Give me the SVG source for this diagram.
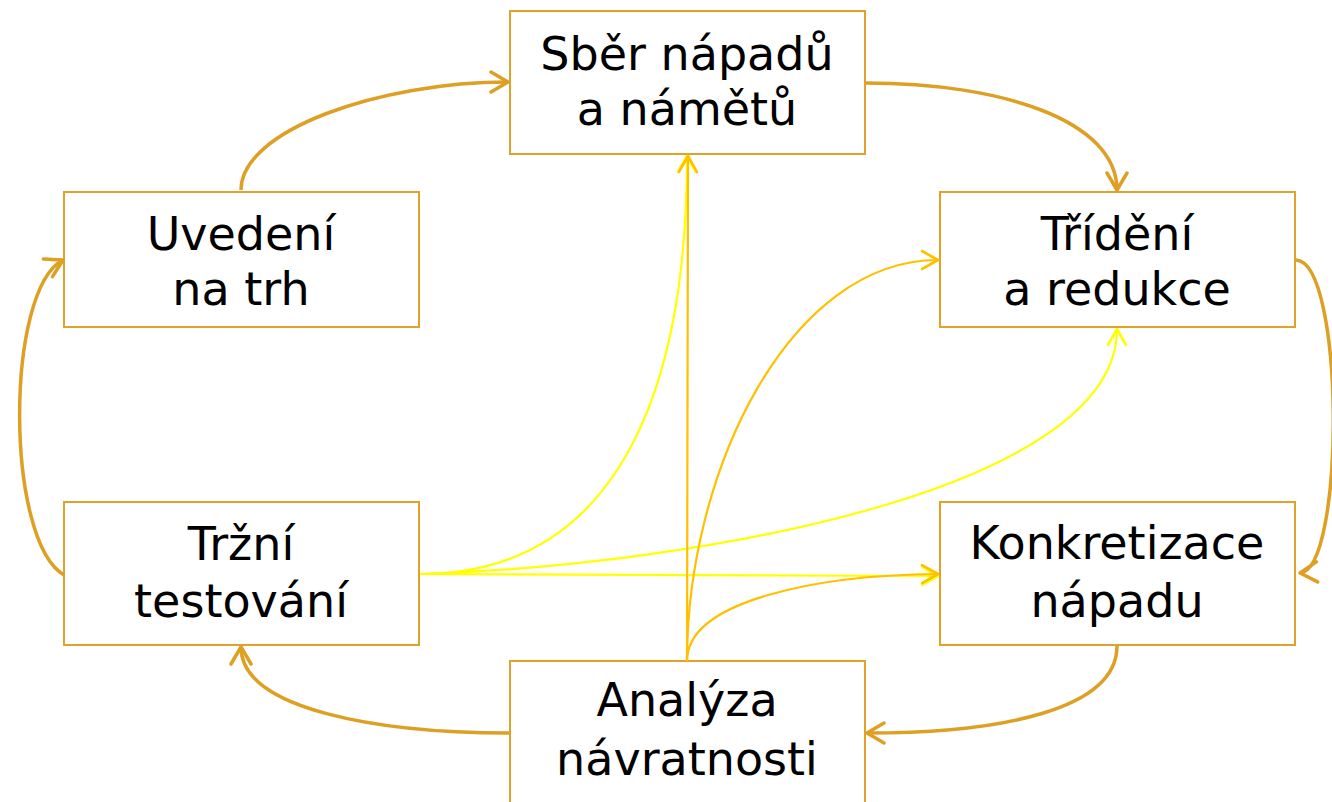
<svg xmlns="http://www.w3.org/2000/svg" width="1332" height="802" viewBox="0 0 1332 802">
<defs>
<style>
.box{fill:#fff;stroke:#E0A22A;stroke-width:2}
.lbl{font-family:"DejaVu Sans","Liberation Sans",sans-serif;font-size:46px;fill:#000;text-anchor:middle}
.thick{fill:none;stroke:#DDA024;stroke-width:3.5}
.yel{fill:none;stroke:#FFFF00;stroke-width:2.2}
.amb{fill:none;stroke:#FFC000;stroke-width:2.2}
</style>
<marker id="mT" viewBox="-20 -12 22 24" refX="0" refY="0" markerWidth="22" markerHeight="24" markerUnits="userSpaceOnUse" orient="auto">
<path d="M-17,-10 L0,0 L-17,10" fill="none" stroke="#DDA024" stroke-width="3.5" stroke-linecap="round" stroke-linejoin="round"/>
</marker>
<marker id="mY" viewBox="-20 -12 22 24" refX="0" refY="0" markerWidth="22" markerHeight="24" markerUnits="userSpaceOnUse" orient="auto">
<path d="M-16,-9 L0,0 L-16,9" fill="none" stroke="#FFFF00" stroke-width="2.6" stroke-linecap="round" stroke-linejoin="round"/>
</marker>
<marker id="mA" viewBox="-20 -12 22 24" refX="0" refY="0" markerWidth="22" markerHeight="24" markerUnits="userSpaceOnUse" orient="auto">
<path d="M-16,-9 L0,0 L-16,9" fill="none" stroke="#FFC000" stroke-width="2.6" stroke-linecap="round" stroke-linejoin="round"/>
</marker>
</defs>
<rect width="1332" height="802" fill="#fff"/>

<g id="n-sber"><rect class="box" x="510" y="11" width="355" height="143"/><text class="lbl" x="687" y="70">Sběr nápadů</text><text class="lbl" x="687" y="125">a námětů</text></g>
<g id="n-uvedeni"><rect class="box" x="64" y="192" width="355" height="135"/><text class="lbl" x="241" y="250">Uvedení</text><text class="lbl" x="241" y="305">na trh</text></g>
<g id="n-trideni"><rect class="box" x="940" y="192" width="355" height="135"/><text class="lbl" x="1117" y="250">Třídění</text><text class="lbl" x="1117" y="305">a redukce</text></g>
<g id="n-trzni"><rect class="box" x="64" y="502" width="355" height="143"/><text class="lbl" x="241" y="560">Tržní</text><text class="lbl" x="241" y="617">testování</text></g>
<g id="n-konkretizace"><rect class="box" x="940" y="502" width="355" height="143"/><text class="lbl" x="1117" y="559">Konkretizace</text><text class="lbl" x="1117" y="617">nápadu</text></g>
<g id="n-analyza"><rect class="box" x="510" y="661" width="355" height="150"/><text class="lbl" x="687" y="716">Analýza</text><text class="lbl" x="687" y="775">návratnosti</text></g>

<g id="connectors">
<path class="thick" marker-end="url(#mT)" d="M241,190 C241,130 380,82 508,82"/>
<path class="thick" marker-end="url(#mT)" d="M866,83 C1000,83 1117,120 1117,190"/>
<path class="thick" marker-end="url(#mT)" d="M1296,260 C1345,262 1345,570 1300,573"/>
<path class="thick" marker-end="url(#mT)" d="M1117,646 C1117,710 1000,733 867,733"/>
<path class="thick" marker-end="url(#mT)" d="M509,733 C380,733 241,710 241,647"/>
<path class="thick" marker-end="url(#mT)" d="M64,575 C5,540 5,290 63,260"/>

<path class="yel" marker-end="url(#mY)" d="M420,574 C600,574 687,420 687,156"/>
<path class="yel" marker-end="url(#mY)" d="M420,574 C700,565 1117,490 1117,329"/>
<path class="yel" marker-end="url(#mY)" d="M420,574 L938,576"/>
<path class="amb" marker-end="url(#mA)" d="M687,661 L688,156"/>
<path class="amb" marker-end="url(#mA)" d="M687,661 C687,470 790,260 938,260"/>
<path class="amb" marker-end="url(#mA)" d="M687,661 C687,600 820,575 938,574"/>
</g>
</svg>
